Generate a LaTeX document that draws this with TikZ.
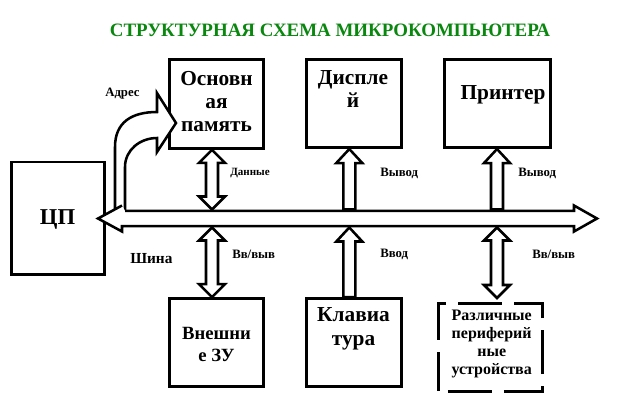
\documentclass[tikz,border=0pt]{standalone}
\usepackage{fontspec}
\setmainfont{Liberation Serif}
\usetikzlibrary{calc}
\definecolor{titregreen}{RGB}{10,135,15}

% double-headed vertical block arrow: #1 upper tip, #2 lower tip
\newcommand{\dvarrow}[2]{%
  \draw[blk] (#1) -- ++(13,13) -- ++(-7,0) -- ($(#2)+(6,-13)$) -- ++(7,0) -- (#2)
    -- ++(-13,-13) -- ++(7,0) -- ($(#1)+(-6,13)$) -- ++(-7,0) -- cycle;}
% upward block arrow: #1 tip, #2 foot
\newcommand{\uvarrow}[2]{%
  \draw[blk] (#1) -- ++(13,14) -- ++(-7,0) -- ($(#2)+(6,0)$) -- ($(#2)+(-6,0)$)
    -- ($(#1)+(-6,14)$) -- ++(-7,0) -- cycle;}

\begin{document}
\begin{tikzpicture}[x=0.75pt,y=-0.75pt]
    \useasboundingbox (0,0) rectangle (617,401);
    \tikzstyle{blok}=[draw, line width=2pt, inner sep=0pt]
    \tikzstyle{blk}=[draw, fill=white, line width=1.9pt]
    \tikzstyle{lbl}=[anchor=west, inner sep=0pt, font=\bfseries\fontsize{9.6}{10}\selectfont]
    \tikzstyle{txt}=[align=center, inner sep=0pt, font=\bfseries\fontsize{16}{17.5}\selectfont]

    %%%%%%%%%%%%%%%%%%%%%%%%%%%%%%%%%%%%%% Titre
    \node[font=\bfseries\fontsize{14.2}{15}\selectfont, text=titregreen] (titre) at (330,30) {СТРУКТУРНАЯ СХЕМА МИКРОКОМПЬЮТЕРА};

    %%%%%%%%%%%%%%%%%%%%%%%%%%%%%%%%%%%%%% Blocs
    \node[blok, minimum width=70.5pt, minimum height=66.75pt] (mem) at (216.6,104.1) {};
    \node[blok, minimum width=71.25pt, minimum height=66pt] (disp) at (353.8,103.7) {};
    \node[blok, minimum width=79.5pt, minimum height=66pt] (prn) at (497.4,103.7) {};
    \node[blok, minimum width=70pt, minimum height=84.5pt] (cpu) at (58,218.3) {};
    \node[blok, minimum width=70.5pt, minimum height=66pt] (ext) at (216.6,342.5) {};
    \node[blok, minimum width=71.25pt, minimum height=66pt] (kbd) at (353.8,342.5) {};
    \node[blok, dash pattern=on 33pt off 9pt, dash phase=35.25pt, minimum width=78pt, minimum height=66pt] (per) at (490.8,347.2) {};

    \node[txt] (tmem) at (216.5,101.5) {Основн\\ая\\память};
    \node[txt] (tdisp) at (353,89) {Диспле\\й};
    \node[txt] (tprn) at (503,95) {Принтер};
    \node[txt, font=\bfseries\fontsize{17}{18}\selectfont] (tcpu) at (57.5,219) {ЦП};
    \node[txt, font=\bfseries\fontsize{14}{16.5}\selectfont] (tzu) at (216.5,344) {Внешни\\е ЗУ};
    \node[txt, font=\bfseries\fontsize{16}{18}\selectfont] (tkbd) at (353.5,329) {Клавиа\\тура};
    \node[txt, font=\bfseries\fontsize{12}{13.5}\selectfont] (tper) at (491.7,343.7) {Различные\\периферий\\ные\\устройства};

    %%%%%%%%%%%%%%%%%%%%%%%%%%%%%%%%%%%%%% Adresse
    \draw[blk] (115,213) -- (115,147) .. controls (115,122) and (132,112) .. (157,112) -- (157,93)
        -- (176,123) -- (157,152) -- (157,138) .. controls (140,138) and (125,150) .. (125,167) -- (125,213);

    %%%%%%%%%%%%%%%%%%%%%%%%%%%%%%%%%%%%%% Bus
    \coordinate (busL) at (98,218.5);
    \coordinate (busR) at (597,218.5);
    \coordinate (busN) at (347,209.5);
    \coordinate (busS) at (347,227.5);
    \draw[blk] (125,210.8) -- (574,210.8) -- (574,205.5) -- (busR) -- (574,231.5) -- (574,226.2)
        -- (122,226.2) -- (122,231.5) -- (busL) -- (122,205.5);

    %%%%%%%%%%%%%%%%%%%%%%%%%%%%%%%%%%%%%% Fleches
    \dvarrow{212,0 |- mem.south}{212,0 |- busN}
    \dvarrow{212,0 |- busS}{212,0 |- ext.north}
    \uvarrow{349.3,0 |- disp.south}{349.3,0 |- busN}
    \uvarrow{349.3,0 |- busS}{349.3,0 |- kbd.north}
    \uvarrow{497,0 |- prn.south}{497,0 |- busN}
    \coordinate (perN) at (497,298);
    \dvarrow{497,0 |- busS}{perN}

    \node[lbl] (adr) at (105,94) {Адрес};
    \node[lbl, font=\bfseries\fontsize{8.3}{10}\selectfont] (dan) at (230,173) {Данные};
    \node[lbl] (vyv1) at (380,173) {Вывод};
    \node[lbl] (vyv2) at (518,173) {Вывод};
    \node[lbl, font=\bfseries\fontsize{11.5}{12}\selectfont] (shina) at (130,259) {Шина};
    \node[lbl] (vv1) at (232,254) {Вв/выв};
    \node[lbl] (vvod) at (380,254) {Ввод};
    \node[lbl] (vv2) at (532,254) {Вв/выв};
\end{tikzpicture}
\end{document}
